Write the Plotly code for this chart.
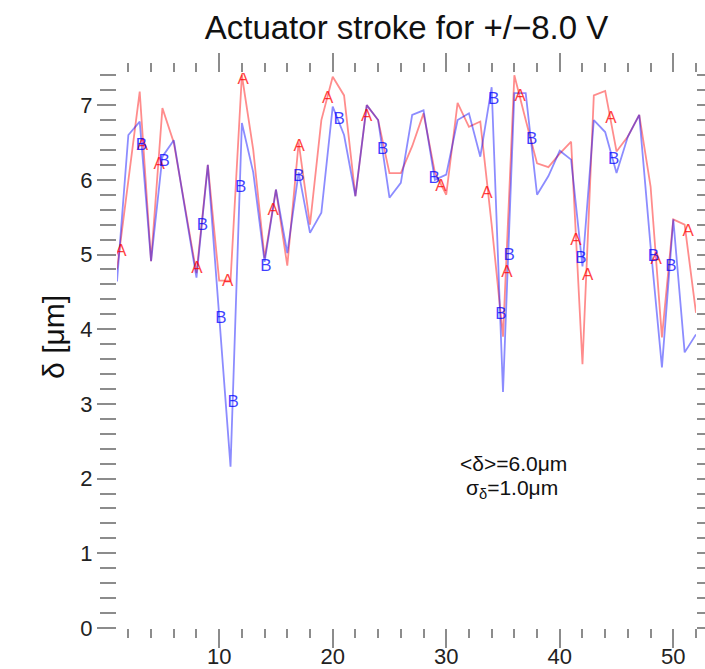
import plotly.graph_objects as go

# actuator index
actuator = list(range(1, 53))

# stroke of the two halves (A = red, B = blue), in micrometres
stroke_a = [4.80, 6.00, 7.18, 4.91, 6.96, 6.50, 5.60, 4.75, 6.20, 4.65,
            4.65, 7.40, 6.40, 4.95, 5.87, 4.85, 6.50, 5.40, 6.80, 7.38,
            7.13, 5.78, 7.00, 6.80, 6.09, 6.09, 6.45, 6.89, 6.10, 5.80,
            7.03, 6.71, 6.78, 5.40, 3.90, 7.40, 6.80, 6.22, 6.17, 6.35,
            6.51, 3.53, 7.13, 7.19, 6.38, 6.58, 6.87, 5.91, 3.89, 5.47,
            5.40, 4.22]
stroke_b = [4.64, 6.60, 6.78, 4.91, 6.31, 6.53, 5.60, 4.69, 6.20, 4.20,
            2.16, 6.76, 6.10, 4.90, 5.87, 5.02, 6.10, 5.29, 5.56, 6.98,
            6.60, 5.78, 7.00, 6.80, 5.76, 5.96, 6.87, 6.93, 6.00, 6.07,
            6.80, 6.89, 6.31, 7.24, 3.16, 7.16, 7.16, 5.80, 6.05, 6.39,
            6.27, 4.84, 6.80, 6.64, 6.09, 6.58, 6.87, 5.11, 3.49, 5.47,
            3.69, 3.93]

# where the "A" / "B" tags are written
tag_a_x = [1.34, 3.25, 4.72, 8.04, 10.74, 12.12, 14.76, 17.05, 19.55, 23.0,
           29.53, 33.59, 35.35, 36.52, 41.43, 42.46, 44.51, 48.5, 51.3]
tag_a_y = [5.04, 6.45, 6.20, 4.81, 4.63, 7.34, 5.58, 6.44, 7.09, 6.85,
           5.91, 5.82, 4.76, 7.11, 5.18, 4.72, 6.82, 4.93, 5.31]
tag_b_x = [3.16, 5.16, 8.53, 10.15, 11.24, 11.9, 14.11, 17.0, 20.58, 24.39,
           28.94, 34.17, 34.81, 35.55, 37.52, 41.87, 44.75, 48.24, 49.8]
tag_b_y = [6.45, 6.24, 5.38, 4.14, 3.02, 5.89, 4.84, 6.04, 6.80, 6.40,
           6.02, 7.07, 4.19, 4.99, 6.53, 4.94, 6.27, 4.97, 4.84]

FONT = "Liberation Sans, Arial, Helvetica, sans-serif"
TICK = "#8c8c8c"

fig = go.Figure()
fig.add_trace(go.Scatter(x=actuator, y=stroke_a, mode="lines",
                         line=dict(color="rgba(255,0,0,0.45)", width=1.8)))
fig.add_trace(go.Scatter(x=actuator, y=stroke_b, mode="lines",
                         line=dict(color="rgba(0,0,255,0.45)", width=1.8)))
fig.add_trace(go.Scatter(x=tag_a_x, y=tag_a_y, mode="text", text=["A"] * len(tag_a_x),
                         textfont=dict(family=FONT, size=17, color="rgba(255,0,0,0.75)")))
fig.add_trace(go.Scatter(x=tag_b_x, y=tag_b_y, mode="text", text=["B"] * len(tag_b_x),
                         textfont=dict(family=FONT, size=17, color="rgba(0,0,255,0.75)")))

fig.add_annotation(x=35.9, y=2.2, text="&lt;δ&gt;=6.0μm", showarrow=False,
                   font=dict(family=FONT, size=21, color="#111"))
fig.add_annotation(x=35.8, y=1.86, text="σ<sub>δ</sub>=1.0μm", showarrow=False,
                   font=dict(family=FONT, size=21, color="#111"))
# y axis title, sitting a little above the middle of the axis as in the original
fig.add_annotation(xref="paper", yref="paper", x=-0.142, y=0.525, text="δ [μm]",
                   textangle=-90, showarrow=False,
                   font=dict(family=FONT, size=30, color="#111"))

fig.update_layout(
    width=705, height=669,
    margin=dict(l=117, r=9, t=73, b=41),
    paper_bgcolor="white", plot_bgcolor="white",
    showlegend=False,
    font=dict(family=FONT, size=22, color="#222"),
    title=dict(text="Actuator stroke for +/−8.0 V", x=0.5, xref="paper",
               y=1 - 27 / 669, yref="container", yanchor="middle",
               font=dict(family=FONT, size=33, color="#111")),
    xaxis=dict(range=[1, 52], tick0=0, dtick=10, ticks="outside", ticklen=19,
               tickwidth=2, tickcolor=TICK, mirror="ticks", showline=False,
               showgrid=False, zeroline=False, automargin=False,
               ticklabelstandoff=-10,
               minor=dict(dtick=2, tick0=0, ticks="outside", ticklen=9,
                          tickwidth=2, tickcolor=TICK)),
    yaxis=dict(range=[0, 7.43], tick0=0, dtick=1, ticks="outside", ticklen=19,
               tickwidth=2, tickcolor=TICK, mirror="ticks", showline=False,
               showgrid=False, zeroline=False, automargin=False,
               minor=dict(dtick=0.2, tick0=0, ticks="outside", ticklen=16,
                          tickwidth=2, tickcolor=TICK)),
)

# the page's default body margin would push the figure 8px down and right
fig.write_html("out.html", config={"displayModeBar": False},
               post_script="document.body.style.margin='0';document.body.style.overflow='hidden';")
